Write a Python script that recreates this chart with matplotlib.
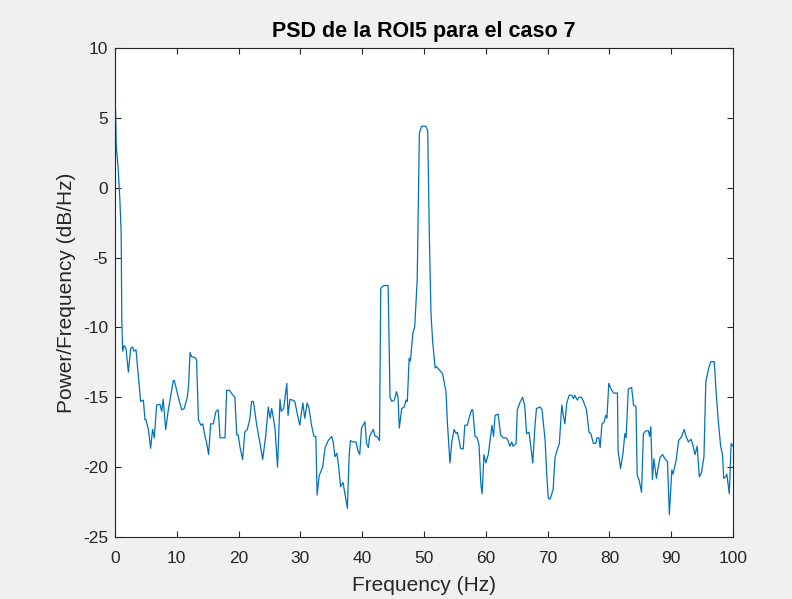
import numpy as np
import matplotlib.pyplot as plt

# frecuencias (Hz) y densidad espectral de potencia (dB/Hz) de la ROI5, caso 7
freq = [0.0, 0.1, 0.2, 0.5, 0.8, 1.0, 1.1, 1.24, 1.46, 1.78, 2.16, 2.54, 2.86, 3.07, 3.4,
        3.78, 4.15, 4.59, 4.85, 5.0, 5.4, 5.76, 6.08, 6.36, 6.74, 7.28, 7.55, 7.8, 8.2,
        8.63, 8.9, 9.44, 9.6, 10.25, 10.8, 11.2, 11.7, 11.9, 12.14, 12.4, 12.9, 13.2,
        13.5, 13.9, 14.2, 14.56, 14.8, 15.15, 15.47, 15.9, 16.34, 16.7, 17.0, 17.8,
        18.07, 18.5, 19.0, 19.4, 19.7, 19.95, 20.2, 20.65, 21.0, 21.4, 21.8, 22.1, 22.4,
        22.9, 23.5, 23.9, 24.4, 24.8, 25.1, 25.35, 25.6, 25.9, 26.3, 26.7, 26.9, 27.3,
        27.8, 28.0, 28.3, 28.7, 29.1, 29.5, 29.9, 30.2, 30.4, 30.7, 31.1, 31.4, 31.8,
        32.2, 32.5, 32.7, 33.05, 33.6, 34.0, 34.5, 35.06, 35.3, 35.6, 35.9, 36.2, 36.5,
        36.9, 37.2, 37.6, 37.9, 38.1, 38.5, 39.0, 39.3, 39.6, 39.9, 40.45, 40.7, 41.0,
        41.2, 41.8, 42.1, 42.4, 42.8, 43.0, 43.5, 44.2, 44.5, 44.8, 45.2, 45.55, 45.8,
        46.0, 46.4, 46.8, 47.1, 47.3, 47.6, 47.8, 48.2, 48.5, 48.9, 49.25, 49.6, 50.3,
        50.6, 50.86, 51.13, 51.4, 51.8, 52.0, 52.6, 53.0, 53.56, 53.8, 54.2, 54.5, 54.86,
        55.2, 55.4, 55.7, 55.9, 56.35, 56.6, 57.0, 57.3, 57.7, 57.9, 58.25, 58.6, 58.9,
        59.2, 59.4, 59.7, 60.0, 60.4, 60.8, 61.0, 61.25, 61.5, 62.0, 62.4, 62.8, 63.3,
        63.6, 63.9, 64.2, 64.4, 64.9, 65.1, 65.5, 65.95, 66.3, 66.6, 67.0, 67.6, 67.96,
        68.2, 68.8, 69.1, 69.6, 69.85, 70.1, 70.4, 70.9, 71.2, 71.6, 71.9, 72.3, 72.5,
        72.8, 73.1, 73.5, 73.9, 74.2, 74.4, 74.8, 75.1, 75.5, 75.8, 76.3, 76.7, 77.0,
        77.4, 77.8, 78.0, 78.3, 78.5, 78.8, 79.1, 79.4, 79.6, 79.9, 80.3, 80.7, 81.3,
        81.4, 81.8, 82.2, 82.5, 82.7, 83.06, 83.6, 83.9, 84.3, 84.5, 84.8, 85.2, 85.5,
        85.9, 86.3, 86.5, 86.7, 86.96, 87.2, 87.6, 87.9, 88.2, 88.6, 89.0, 89.4, 89.7,
        90.1, 90.3, 90.8, 91.2, 91.7, 92.1, 92.4, 92.8, 93.2, 93.5, 93.85, 94.2, 94.55,
        94.9, 95.3, 95.6, 96.0, 96.4, 96.97, 97.25, 97.6, 98.0, 98.3, 98.5, 98.8, 99.0,
        99.4, 99.7, 100.0]

psd = [6.2, 5.5, 3.0, 1.5, -1.0, -3.3, -9.5, -11.7, -11.3, -11.5, -13.2, -11.5, -11.4,
       -11.7, -11.6, -13.5, -15.3, -15.2, -16.6, -16.6, -17.3, -18.65, -17.3, -17.9,
       -15.55, -15.5, -16.0, -15.15, -17.3, -15.9, -15.2, -13.8, -13.8, -15.0, -15.9,
       -15.8, -15.0, -14.2, -11.8, -12.1, -12.15, -12.3, -16.6, -17.0, -16.9, -17.8,
       -18.2, -19.1, -16.9, -16.9, -16.0, -15.9, -17.9, -17.9, -14.5, -14.5, -14.8,
       -15.0, -17.7, -17.7, -18.5, -19.45, -17.5, -17.3, -16.6, -15.3, -15.3, -16.9,
       -18.4, -19.45, -17.7, -15.7, -16.5, -15.8, -16.4, -17.3, -20.0, -15.15, -16.0,
       -15.8, -14.0, -16.3, -15.15, -15.2, -15.3, -16.2, -17.0, -16.0, -15.4, -16.5,
       -15.4, -15.8, -17.0, -17.8, -17.8, -22.0, -20.6, -20.0, -18.6, -18.1, -17.8,
       -18.2, -19.25, -19.0, -20.0, -21.4, -21.1, -21.9, -22.95, -19.1, -18.1, -18.2,
       -18.2, -18.8, -19.1, -17.2, -16.75, -18.3, -18.6, -17.8, -17.3, -17.8, -17.8,
       -18.1, -7.2, -7.0, -7.0, -15.0, -15.3, -15.2, -14.6, -15.0, -17.2, -15.8, -15.7,
       -15.2, -15.3, -12.2, -12.4, -10.4, -9.95, -6.6, 3.9, 4.4, 4.4, 4.1, -3.3, -9.0,
       -11.0, -12.9, -12.8, -13.1, -13.3, -14.6, -16.9, -19.7, -18.2, -17.3, -17.6,
       -17.5, -18.1, -18.65, -18.7, -17.0, -17.0, -16.5, -15.9, -15.9, -17.8, -17.9,
       -18.4, -21.2, -21.9, -19.1, -19.7, -19.1, -17.7, -17.0, -17.8, -16.3, -16.2,
       -17.7, -17.9, -17.9, -18.1, -18.5, -18.2, -18.5, -18.3, -15.9, -15.4, -15.0,
       -15.6, -17.6, -17.5, -19.7, -17.0, -15.8, -15.7, -15.9, -18.1, -20.4, -22.2,
       -22.3, -21.6, -19.3, -18.7, -18.3, -15.55, -16.2, -16.9, -15.4, -14.85, -14.85,
       -15.1, -14.85, -15.2, -15.0, -15.0, -15.3, -15.9, -17.5, -17.6, -18.3, -18.3,
       -17.9, -17.9, -18.6, -16.9, -16.8, -16.3, -16.5, -14.0, -14.45, -14.7, -14.7,
       -18.8, -20.1, -19.0, -17.6, -17.9, -14.4, -14.3, -15.55, -15.65, -20.6, -20.9,
       -21.8, -17.6, -17.4, -17.4, -17.8, -17.1, -20.9, -19.4, -20.8, -20.0, -19.3,
       -19.1, -19.4, -19.6, -23.4, -20.2, -20.5, -19.5, -18.1, -17.8, -17.3, -17.8,
       -18.2, -18.0, -18.4, -19.1, -18.5, -20.7, -20.4, -19.25, -13.9, -13.05, -12.45,
       -12.45, -14.5, -16.6, -18.5, -19.1, -20.8, -20.7, -20.5, -21.9, -18.3, -18.5]

xticks = np.arange(0, 101, 10)
yticks = np.arange(-25, 11, 5)

plt.rcParams['font.family'] = ['Liberation Sans', 'DejaVu Sans']
plt.rcParams['axes.unicode_minus'] = False

fig = plt.figure(figsize=(7.92, 5.99), dpi=100, facecolor='#f0f0f0')
ax = fig.add_axes([115 / 792, 1 - 537 / 599, 618 / 792, 489 / 599])

ax.plot(freq, psd, color='#0072BD', lw=0.9)

ax.set_xlim(0, 100)
ax.set_ylim(-25, 10)
ax.set_xticks(xticks)
ax.set_yticks(yticks)

gris = '#262626'
for s in ax.spines.values():
    s.set_color(gris)
    s.set_linewidth(0.8)
ax.tick_params(direction='in', top=True, right=True, length=4, width=0.8,
               colors=gris, labelsize=12.5)
ax.tick_params(axis='x', pad=10)
ax.tick_params(axis='y', pad=5)

ax.set_title('PSD de la ROI5 para el caso 7', fontsize=15.5, fontweight='bold',
             color='black', pad=8)
ax.set_xlabel('Frequency (Hz)', fontsize=15, color=gris, labelpad=7)
ax.set_ylabel('Power/Frequency (dB/Hz)', fontsize=15, color=gris, labelpad=5)

fig.savefig('out.png', dpi=100, facecolor=fig.get_facecolor())
